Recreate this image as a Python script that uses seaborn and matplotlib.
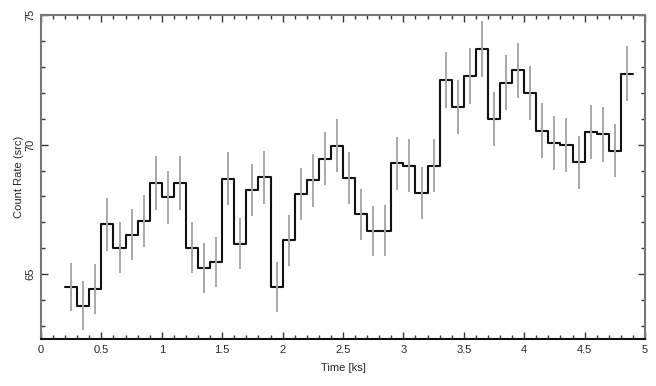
import numpy as np
import matplotlib
matplotlib.use("Agg")
import matplotlib.pyplot as plt
import seaborn as sns
from matplotlib.ticker import MultipleLocator

sns.set_theme(style="white")
plt.rcParams['font.family'] = ['Liberation Sans', 'DejaVu Sans']

# bin edges (ks)
bin_start = 0.2
bin_width = 0.1
rate = [64.50, 63.78, 64.43, 66.92, 66.02, 66.53, 67.05, 68.52, 67.97, 68.52,
        66.02, 65.25, 65.46, 68.69, 66.17, 68.24, 68.74, 64.50, 66.31, 68.10,
        68.62, 69.46, 69.95, 68.71, 67.31, 66.67, 66.68, 69.28, 69.18, 68.12,
        69.19, 72.50, 71.44, 72.64, 73.69, 71.00, 72.39, 72.86, 72.00, 70.54,
        70.06, 70.00, 69.32, 70.49, 70.39, 69.77, 72.74]
err = [0.92, 0.95, 0.95, 1.02, 0.98, 0.98, 1.00, 1.03, 1.02, 1.03,
       0.98, 0.97, 0.97, 1.02, 0.98, 1.01, 1.02, 0.97, 0.98, 1.01,
       1.02, 1.02, 1.02, 1.02, 0.99, 0.98, 0.98, 1.02, 1.02, 1.00,
       1.02, 1.07, 1.05, 1.07, 1.07, 1.04, 1.07, 1.07, 1.05, 1.05,
       1.04, 1.04, 1.03, 1.05, 1.05, 1.03, 1.07]

n = len(rate)
edges = bin_start + bin_width * np.arange(n + 1)
centers = edges[:-1] + bin_width / 2
rate_ext = rate + [rate[-1]]

fig = plt.figure(figsize=(6.56, 3.86), dpi=100)
ax = fig.add_axes([41/656, 1 - 339/386, (645-41)/656, (339-15)/386])

sns.lineplot(x=edges, y=rate_ext, drawstyle='steps-post', color='#111111',
             linewidth=1.5, ax=ax, sort=False, zorder=2)
ax.vlines(centers, np.array(rate) - np.array(err), np.array(rate) + np.array(err),
          color='#a8a8a8', linewidth=1.4, zorder=3)

ax.set_xlim(0, 5)
ax.set_ylim(62.5, 75)
ax.xaxis.set_major_locator(MultipleLocator(0.5))
ax.xaxis.set_minor_locator(MultipleLocator(0.1))
ax.yaxis.set_major_locator(MultipleLocator(5))
ax.yaxis.set_minor_locator(MultipleLocator(1))
ax.set_xticks([0, 0.5, 1, 1.5, 2, 2.5, 3, 3.5, 4, 4.5, 5])
ax.set_xticklabels(['0', '0.5', '1', '1.5', '2', '2.5', '3', '3.5', '4', '4.5', '5'])

ax.tick_params(which='both', direction='in', top=True, right=True, bottom=True, left=True,
               color='#333333', labelsize=8, pad=4)
ax.tick_params(which='major', length=5, width=1)
ax.tick_params(which='minor', length=3, width=1)
for lbl in ax.get_yticklabels():
    lbl.set_rotation(90)
    lbl.set_va('center')

for s in ['top', 'left', 'right']:
    ax.spines[s].set_color('#777777')
    ax.spines[s].set_linewidth(1.5)
ax.spines['bottom'].set_color('#111111')
ax.spines['bottom'].set_linewidth(1.5)

ax.set_xlabel('Time [ks]', fontsize=8, labelpad=6)
ax.set_ylabel('Count Rate (src)', fontsize=8, labelpad=1)

fig.savefig('out.png', dpi=100)
